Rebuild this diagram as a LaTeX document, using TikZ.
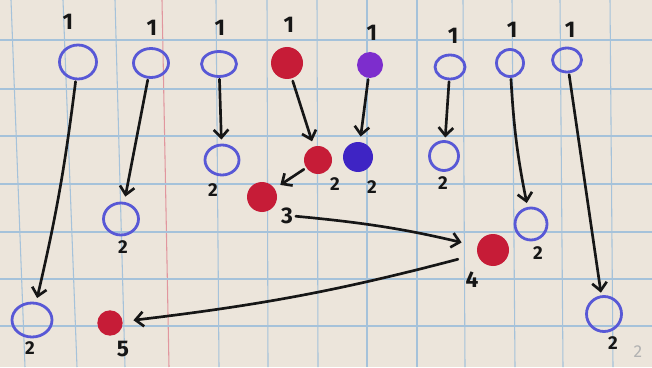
\documentclass[tikz,border=0pt]{standalone}
\usepackage{fontspec}
\setmainfont{Fira Sans}
\usetikzlibrary{arrows.meta,shapes.geometric}
\definecolor{paper}{RGB}{236,229,219}
\definecolor{gridc}{RGB}{165,194,218}
\definecolor{margin}{RGB}{225,150,158}
\definecolor{pen}{RGB}{88,88,214}
\definecolor{redc}{RGB}{198,28,55}
\definecolor{purp}{RGB}{125,45,205}
\definecolor{dblue}{RGB}{62,36,196}
\definecolor{ink}{RGB}{22,22,22}
\begin{document}
\begin{tikzpicture}[x=0.75pt,y=-0.75pt,
  hollow/.style 2 args={ellipse,draw=pen,line width=2.1pt,minimum width=#1,minimum height=#2,inner sep=0pt},
  dot/.style 2 args={circle,fill=#1,minimum size=#2,inner sep=0pt},
  gridline/.style={gridc,line width=0.8pt},
  arr/.style={ink,line width=2pt,line cap=round,-{Straight Barb[length=6pt,width=11pt,line width=2pt]}},
  big/.style={ink,font=\bfseries\fontsize{17}{17}\selectfont,inner sep=0pt},
  small/.style={ink,font=\bfseries\fontsize{14}{14}\selectfont,inner sep=0pt}
]
\useasboundingbox[fill=paper] (0,0) rectangle (652,367);
% grid paper
\foreach \t/\b in {11/25,63/77,115/125,216/219,267/268,317/318,367/367,417/417,463/465,512/515,560/563,610/613}
  \draw[gridline] (\t,0) -- (\b,367);
\draw[margin,line width=0.8pt] (162,0) -- (169,367);
\foreach \y in {40,89,136,184,232,279,326}
  \draw[gridline] (0,\y) -- (652,\y);
% top row
\node[hollow={27.75pt}{25.5pt}] (a1) at (78,62) {};
\node[hollow={26.25pt}{21.75pt}] (a2) at (151,63) {};
\node[hollow={26.25pt}{18.75pt}] (a3) at (219,64) {};
\node[dot={redc}{24pt}] (r1) at (287,63) {};
\node[dot={purp}{19.5pt}] (p1) at (370,65) {};
\node[hollow={22.5pt}{18pt}] (a6) at (450,67) {};
\node[hollow={20.25pt}{20.25pt}] (a7) at (510,63) {};
\node[hollow={21.75pt}{18pt}] (a8) at (567,60) {};
% second rows
\node[hollow={25.5pt}{22.5pt}] (b3) at (222,160) {};
\node[dot={redc}{21pt}] (r2) at (318,160) {};
\node[dot={dblue}{22.5pt}] (d2) at (358,157) {};
\node[hollow={21.75pt}{21.75pt}] (b6) at (444,156) {};
\node[dot={redc}{22.5pt}] (r3) at (262,197) {};
\node[hollow={26.25pt}{24pt}] (b2) at (121,219) {};
\node[hollow={24pt}{24pt}] (b7) at (531,224) {};
\node[dot={redc}{24pt}] (r4) at (493,250) {};
\node[hollow={30pt}{25.5pt}] (b1) at (32,320) {};
\node[dot={redc}{19pt}] (r5) at (110,323) {};
\node[hollow={26.25pt}{26.25pt}] (b8) at (604,314) {};
% labels
\node[big] (la1) at (68,22) {1};
\node[big] (la2) at (152,28) {1};
\node[big] (la3) at (220,28) {1};
\node[big] (lr1) at (289,25) {1};
\node[big] (lp1) at (372,33) {1};
\node[big] (la6) at (453,36) {1};
\node[big] (la7) at (512,30) {1};
\node[big] (la8) at (570,30) {1};
\node[small] (lb3) at (213,190) {2};
\node[small] (lr2) at (335,184) {2};
\node[small] (ld2) at (372,187) {2};
\node[small] (lb6) at (443,183) {2};
\node[small] (lb2) at (123,247) {2};
\node[small] (lb7) at (538,253) {2};
\node[small] (lb1) at (30,348) {2};
\node[small] (lb8) at (613,343) {2};
\node[big] (l3) at (287,216) {3};
\node[big] (l4) at (472,280) {4};
\node[big] (l5) at (123,349) {5};
\node[font=\fontsize{13}{13}\selectfont,text=black!30,inner sep=0pt] (pg) at (638,352) {2};
% connectors
\draw[arr,shorten <=1pt,shorten >=3pt] (a1) to[bend left=3] (b1);
\draw[arr,shorten <=1pt,shorten >=4pt] (a2) -- (b2);
\draw[arr,shorten <=1pt,shorten >=3pt] (a3) -- (b3);
\draw[arr,shorten <=2pt,shorten >=4pt] (r1) -- (r2);
\draw[arr,shorten <=1pt,shorten >=4pt] (p1) -- (d2);
\draw[arr,shorten <=1pt,shorten >=2pt] (a6) -- (b6);
\draw[arr,shorten <=1pt,shorten >=3pt] (a7) to[bend right=4] (b7);
\draw[arr,shorten <=1pt,shorten >=2pt] (a8) -- (b8);
\draw[arr,shorten <=2pt,shorten >=5pt] (r2) -- (r3);
\draw[arr,shorten <=2pt,shorten >=12pt] (l3.east) to[bend left=4] (r4);
\draw[arr,shorten <=15pt,shorten >=8pt] (r4) to[bend left=4] (r5);
\end{tikzpicture}
\end{document}
